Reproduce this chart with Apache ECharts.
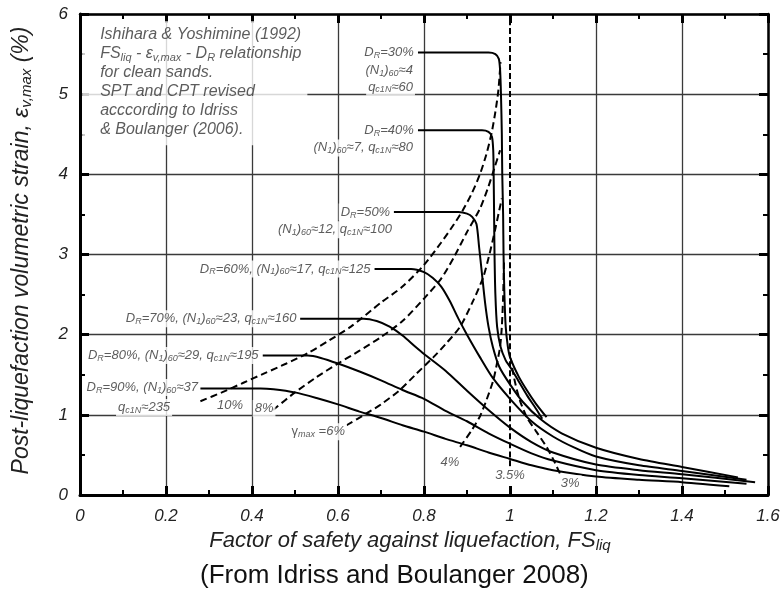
<!DOCTYPE html>
<html>
<head>
<meta charset="utf-8">
<script src="https://cdn.jsdelivr.net/npm/echarts@6/dist/echarts.min.js"></script>
<style>
    html, body { margin: 0; padding: 0; background: #fff; }
    #chart { width: 782px; height: 594px; }
</style>
</head>
<body>
<div id="chart"></div>
<script>
// Solid curves: FS_liq vs max volumetric strain (%) for each relative density
const dr30 = [[0.786,5.52],[0.95,5.52],[0.966,5.50],[0.974,5.44],[0.977,5.30],[0.979,5.0],[0.981,4.5],[0.982,4.0],[0.984,3.5],[0.985,3.0],[0.987,2.5],[0.990,2.1],[0.995,1.85],[1.0,1.72],[1.02,1.48],[1.04,1.3],[1.06,1.14],[1.085,0.97]];
const dr40 = [[0.786,4.55],[0.935,4.55],[0.950,4.53],[0.958,4.47],[0.961,4.3],[0.962,4.0],[0.963,3.5],[0.964,3.0],[0.966,2.5],[0.970,2.1],[0.978,1.85],[0.99,1.68],[1.0,1.6],[1.02,1.42],[1.04,1.24],[1.06,1.08],[1.075,0.95]];
const dr50 = [[0.73,3.53],[0.88,3.53],[0.90,3.51],[0.912,3.47],[0.922,3.38],[0.928,3.1],[0.935,2.75],[0.942,2.4],[0.95,2.1],[0.96,1.85],[0.975,1.6],[1.0,1.38],[1.03,1.16],[1.07,0.95],[1.12,0.77],[1.2,0.59],[1.3,0.45],[1.4,0.35],[1.53,0.22]];
const dr60 = [[0.685,2.82],[0.77,2.82],[0.80,2.78],[0.82,2.71],[0.84,2.6],[0.86,2.42],[0.88,2.2],[0.90,2.0],[0.93,1.72],[0.96,1.46],[1.0,1.2],[1.05,0.92],[1.1,0.73],[1.15,0.59],[1.2,0.48],[1.3,0.37],[1.4,0.3],[1.55,0.19]];
const dr70 = [[0.512,2.2],[0.66,2.2],[0.69,2.17],[0.72,2.1],[0.75,1.99],[0.78,1.85],[0.8,1.76],[0.85,1.55],[0.9,1.3],[0.95,1.06],[1.0,0.84],[1.05,0.66],[1.1,0.53],[1.2,0.38],[1.3,0.31],[1.4,0.26],[1.57,0.16]];
const dr80 = [[0.425,1.74],[0.53,1.74],[0.56,1.71],[0.6,1.64],[0.65,1.54],[0.7,1.43],[0.75,1.31],[0.8,1.2],[0.85,1.05],[0.9,0.92],[0.95,0.77],[1.0,0.64],[1.05,0.52],[1.1,0.43],[1.2,0.31],[1.3,0.25],[1.4,0.21],[1.55,0.14]];
const dr90 = [[0.28,1.33],[0.42,1.33],[0.45,1.32],[0.5,1.28],[0.55,1.21],[0.6,1.13],[0.65,1.04],[0.7,0.96],[0.75,0.87],[0.8,0.79],[0.85,0.7],[0.9,0.62],[0.95,0.53],[1.0,0.45],[1.05,0.37],[1.1,0.31],[1.2,0.23],[1.3,0.19],[1.4,0.16],[1.51,0.11]];

// Dashed curves: maximum shear strain gamma_max
const g10 = [[0.28,1.17],[0.33,1.28],[0.38,1.4],[0.43,1.52],[0.48,1.64],[0.53,1.77],[0.58,1.93],[0.63,2.1],[0.70,2.4],[0.75,2.6],[0.8,2.87],[0.84,3.15],[0.87,3.38],[0.89,3.55],[0.91,3.75],[0.93,4.0],[0.945,4.25],[0.957,4.51],[0.966,4.78],[0.973,5.05],[0.978,5.4]];
const g8 = [[0.449,1.06],[0.50,1.28],[0.55,1.47],[0.6,1.64],[0.65,1.8],[0.7,1.97],[0.75,2.17],[0.8,2.45],[0.84,2.7],[0.87,2.97],[0.9,3.28],[0.93,3.57],[0.95,3.85],[0.965,4.1],[0.977,4.3]];
const g6 = [[0.62,0.87],[0.667,1.02],[0.7,1.13],[0.744,1.31],[0.78,1.5],[0.822,1.72],[0.85,1.88],[0.884,2.1],[0.915,2.43],[0.938,2.72],[0.953,3.02],[0.965,3.3],[0.975,3.55],[0.981,3.7]];
const g4 = [[0.884,0.6],[0.91,0.8],[0.93,0.98],[0.945,1.18],[0.961,1.43],[0.97,1.65],[0.977,1.85],[0.981,2.1],[0.984,2.47],[0.986,2.9]];
const g35 = [[1.0,0.36],[1.0,6.0]];
const g3 = [[1.116,0.27],[1.1,0.45],[1.085,0.6],[1.06,0.8],[1.04,0.96],[1.025,1.15],[1.016,1.31],[1.008,1.5],[1.002,1.7]];

// Text labels placed at data coordinates: [x, y, text, align]
const drLabels = [
    [0.781, 5.52, '{t|D}{s|R}{t|=30%}', 'right'],
    [0.779, 5.30, '{t|(N}{s|1}{t|)}{s|60}{t|≈4}', 'right'],
    [0.779, 5.09, '{t|q}{s|c1N}{t|≈60}', 'right'],
    [0.781, 4.55, '{t|D}{s|R}{t|=40%}', 'right'],
    [0.779, 4.33, '{t|(N}{s|1}{t|)}{s|60}{t|≈7, q}{s|c1N}{t|≈80}', 'right'],
    [0.726, 3.53, '{t|D}{s|R}{t|=50%}', 'right'],
    [0.730, 3.31, '{t|(N}{s|1}{t|)}{s|60}{t|≈12, q}{s|c1N}{t|≈100}', 'right'],
    [0.680, 2.82, '{t|D}{s|R}{t|=60%, (N}{s|1}{t|)}{s|60}{t|≈17, q}{s|c1N}{t|≈125}', 'right'],
    [0.508, 2.20, '{t|D}{s|R}{t|=70%, (N}{s|1}{t|)}{s|60}{t|≈23, q}{s|c1N}{t|≈160}', 'right'],
    [0.420, 1.74, '{t|D}{s|R}{t|=80%, (N}{s|1}{t|)}{s|60}{t|≈29, q}{s|c1N}{t|≈195}', 'right'],
    [0.279, 1.34, '{t|D}{s|R}{t|=90%, (N}{s|1}{t|)}{s|60}{t|≈37}', 'right'],
    [0.149, 1.09, '{t|q}{s|c1N}{t|≈235}', 'center']
];
const gammaLabels = [
    [0.349, 1.12, '{p|10%}'],
    [0.428, 1.08, '{p|8%}'],
    [0.554, 0.79, '{g|γ}{gs|max}{p| =6%}'],
    [0.860, 0.41, '{p|4%}'],
    [1.0, 0.25, '{p|3.5%}'],
    [1.14, 0.14, '{p|3%}']
];
const noteLines = [
    '{a|Ishihara & Yoshimine (1992)}',
    '{a|FS}{as|liq}{a| - ε}{as|v,max}{a| - D}{as|R}{a| relationship}',
    '{a|for clean sands.}',
    '{a|SPT and CPT revised}',
    '{a|acccording to Idriss}',
    '{a|& Boulanger (2006).}'
];

const FONT = '"Liberation Sans", Arial, sans-serif';
const TXT = '#333';

document.addEventListener('DOMContentLoaded', function() {
    const chart = echarts.init(document.getElementById('chart'));

    const rich = {
        t: { fontFamily: FONT, fontStyle: 'italic', fontSize: 13, color: TXT, lineHeight: 15 },
        s: { fontFamily: FONT, fontStyle: 'italic', fontSize: 9, color: TXT, lineHeight: 9, verticalAlign: 'bottom' },
        p: { fontFamily: FONT, fontStyle: 'italic', fontSize: 13, color: TXT, lineHeight: 15 },
        g: { fontFamily: FONT, fontSize: 13, color: TXT, lineHeight: 15 },
        gs: { fontFamily: FONT, fontStyle: 'italic', fontSize: 9, color: TXT, lineHeight: 9, verticalAlign: 'bottom' },
        a: { fontFamily: FONT, fontStyle: 'italic', fontSize: 16, color: TXT, lineHeight: 19 },
        as: { fontFamily: FONT, fontStyle: 'italic', fontSize: 11, color: TXT, lineHeight: 11, verticalAlign: 'bottom' }
    };

    function curve(data, dashed) {
        return {
            type: 'line',
            data: data,
            showSymbol: false,
            smooth: 0.25,
            silent: true,
            z: 2,
            lineStyle: { color: '#000', width: 2, type: dashed ? dashed : 'solid' }
        };
    }

    function textSeries(items, bg) {
        return {
            type: 'scatter',
            symbolSize: 0,
            silent: true,
            z: 5,
            data: items.map(d => ({
                value: [d[0], d[1]],
                text: d[2],
                label: { align: d[3] || 'center' }
            })),
            label: {
                show: true,
                position: 'inside',
                verticalAlign: 'middle',
                formatter: p => p.data.text,
                backgroundColor: bg,
                padding: [1, 2],
                rich: rich
            }
        };
    }

    const tickStyle = { show: true, inside: true, length: 9, lineStyle: { color: '#000', width: 3 } };
    const minorStyle = { show: true, splitNumber: 2, length: 5, lineStyle: { color: '#000', width: 2 } };
    const gridColor = '#3a3a3a';

    const option = {
        animation: false,
        backgroundColor: '#fff',
        title: {
            text: '(From Idriss and Boulanger 2008)',
            left: 200,
            top: 563,
            padding: 0,
            textStyle: { fontFamily: FONT, fontSize: 26, fontWeight: 'normal', color: '#111' }
        },
        grid: { left: 80, right: 14, top: 14, bottom: 99, outerBoundsMode: 'none', containLabel: false },
        xAxis: [{
            type: 'value', min: 0, max: 1.6, interval: 0.2, position: 'bottom',
            axisLine: { show: true, onZero: false, lineStyle: { color: '#000', width: 3 } },
            axisTick: tickStyle,
            minorTick: minorStyle,
            splitLine: { show: true, lineStyle: { color: [gridColor, gridColor, gridColor, gridColor, gridColor, 'rgba(0,0,0,0)', gridColor, gridColor, gridColor], width: 1.3 } },
            axisLabel: {
                margin: 13, fontFamily: FONT, fontStyle: 'italic', fontSize: 17, color: '#222',
                formatter: v => String(+v.toFixed(1))
            },
            name: '{n|Factor of safety against liquefaction, FS}{ns|liq}',
            nameLocation: 'middle',
            nameGap: 34,
            nameTextStyle: {
                padding: [0, 28, 0, 0],
                rich: {
                    n: { fontFamily: FONT, fontStyle: 'italic', fontSize: 22, color: '#222', lineHeight: 24 },
                    ns: { fontFamily: FONT, fontStyle: 'italic', fontSize: 15, color: '#222', lineHeight: 14, verticalAlign: 'bottom' }
                }
            }
        }, {
            type: 'value', min: 0, max: 1.6, interval: 0.2, position: 'top',
            axisLine: { show: true, onZero: false, lineStyle: { color: '#000', width: 2.5 } },
            axisTick: tickStyle,
            minorTick: minorStyle,
            splitLine: { show: false },
            axisLabel: { show: false }
        }],
        yAxis: [{
            type: 'value', min: 0, max: 6, interval: 1, position: 'left',
            axisLine: { show: true, onZero: false, lineStyle: { color: '#000', width: 3 } },
            axisTick: tickStyle,
            minorTick: minorStyle,
            splitLine: { show: true, lineStyle: { color: gridColor, width: 1.3 } },
            axisLabel: { margin: 12, fontFamily: FONT, fontStyle: 'italic', fontSize: 17, color: '#222' },
            name: '{n|Post-liquefaction volumetric strain, ε}{ns|v,max}{n| (%)}',
            nameLocation: 'middle',
            nameRotate: 90,
            nameGap: 46,
            nameTextStyle: {
                padding: [0, 0, 0, 8],
                rich: {
                    n: { fontFamily: FONT, fontStyle: 'italic', fontSize: 23, color: '#222', lineHeight: 25 },
                    ns: { fontFamily: FONT, fontStyle: 'italic', fontSize: 15, color: '#222', lineHeight: 14, verticalAlign: 'bottom' }
                }
            }
        }, {
            type: 'value', min: 0, max: 6, interval: 1, position: 'right',
            axisLine: { show: true, onZero: false, lineStyle: { color: '#000', width: 2.5 } },
            axisTick: tickStyle,
            minorTick: minorStyle,
            splitLine: { show: false },
            axisLabel: { show: false }
        }],
        series: [
            curve(dr30), curve(dr40), curve(dr50), curve(dr60), curve(dr70), curve(dr80), curve(dr90),
            curve(g10, [7, 4]), curve(g8, [7, 4]), curve(g6, [7, 4]), curve(g4, [7, 4]),
            curve(g35, [6, 3]), curve(g3, [7, 4]),
            textSeries(drLabels, '#fff'),
            textSeries(gammaLabels, '#fff'),
            textSeries([[0.005, 5.91, noteLines.join('\n'), 'left']], '#fff')
        ]
    };
    // the note block hangs from its top-left corner
    option.series[15].label.verticalAlign = 'top';
    option.series[15].label.padding = [4, 6, 6, 18];

    chart.setOption(option);
});
</script>
</body>
</html>
